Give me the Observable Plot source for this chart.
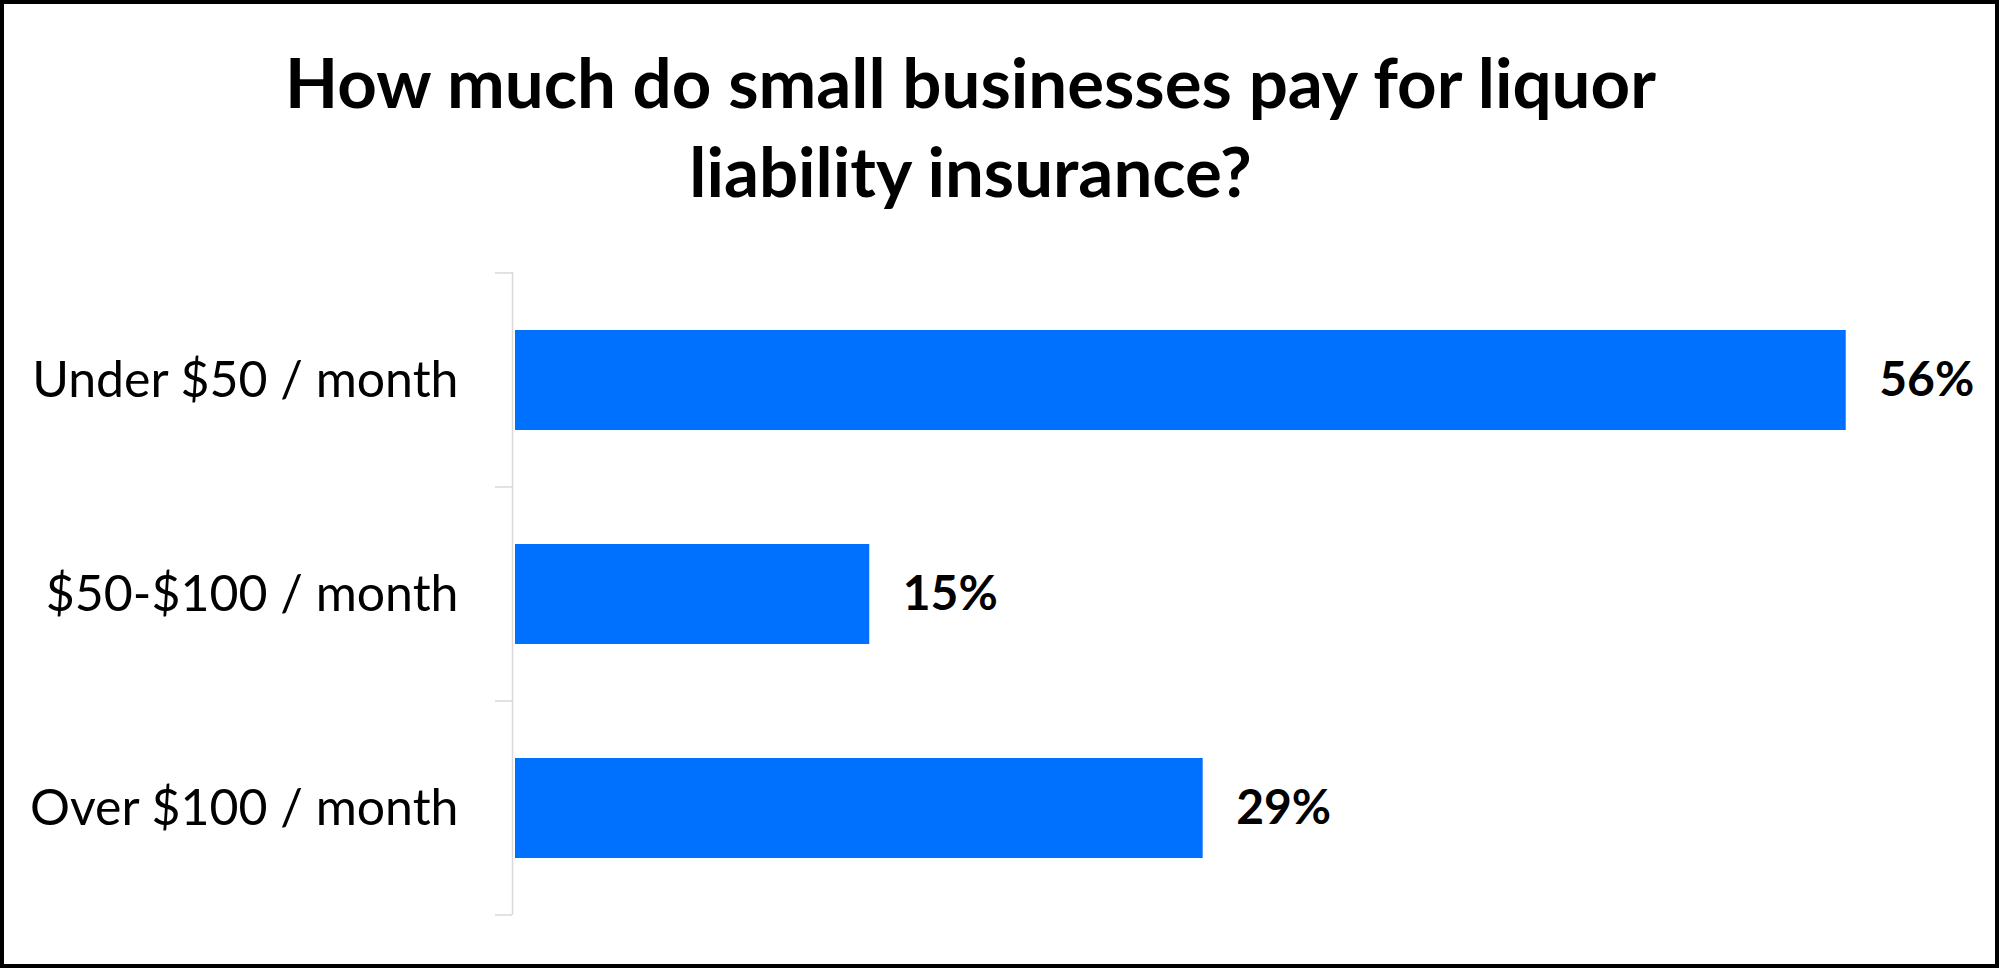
<!DOCTYPE html>
<html>
<head>
<meta charset="utf-8">
<script src="https://cdn.jsdelivr.net/npm/d3@7"></script>
<script src="https://cdn.jsdelivr.net/npm/@observablehq/plot@0.6"></script>
<style>
  html, body { margin: 0; padding: 0; background: #fff; }
  #frame {
    width: 1999px; height: 968px; box-sizing: border-box;
    border: 4px solid #000; background: #fff; overflow: hidden;
    font-family: Lato, "Open Sans", sans-serif; color: #000;
  }
  #title {
    height: 219px; box-sizing: border-box; padding-top: 33px; padding-right: 58px;
    text-align: center; font-weight: bold; font-size: 69px; line-height: 89px;
  }
  #chart svg { display: block; }
</style>
</head>
<body>
<div id="frame">
  <div id="title">How much do small businesses pay for liquor<br>liability insurance?</div>
  <div id="chart"></div>
</div>
<script>
const categories = ["Under $50 / month", "$50-$100 / month", "Over $100 / month"];
const values = [56, 15, 29];
const valueLabels = ["56%", "15%", "29%"];

const data = categories.map((c, i) => ({category: c, value: values[i], label: valueLabels[i]}));

const barColor = "#0070FF";
const axisColor = "#D9D9D9";
const padInner = 0.533;
const tickLen = 17;

function boundaryTicks(index, scales) {
  const y = scales.y, x = scales.x;
  const step = y(categories[1]) - y(categories[0]);
  const pad = step * padInner / 2;
  const bounds = categories.map(c => y(c) - pad);
  bounds.push(y(categories[categories.length - 1]) + step - pad);
  const x0 = x(0);
  const g = d3.create("svg:g").attr("stroke", axisColor).attr("stroke-width", 1.5);
  g.selectAll("line").data(bounds).join("line")
    .attr("x1", x0 - tickLen).attr("x2", x0)
    .attr("y1", d => d).attr("y2", d => d);
  return g.node();
}

const chart = Plot.plot({
  width: 1991,
  height: 741,
  marginLeft: 508,
  marginRight: 54,
  marginTop: 49,
  marginBottom: 49,
  style: {fontFamily: "Lato, 'Open Sans', sans-serif", color: "#000", background: "#fff"},
  x: {domain: [0, 60], axis: null},
  y: {domain: categories, padding: padInner, paddingOuter: padInner / 2, label: null},
  marks: [
    Plot.barX(data, {x: "value", y: "category", fill: barColor, insetLeft: 3}),
    Plot.ruleX([0], {stroke: axisColor, strokeWidth: 1.5}),
    boundaryTicks,
    Plot.axisY({tickSize: 0, tickPadding: 54, fontSize: 50, label: null, fill: "#000"}),
    Plot.text(data, {x: "value", y: "category", text: "label", textAnchor: "start", dx: 33,
      fontSize: 48, fontWeight: "bold", fill: "#000"})
  ]
});
document.getElementById("chart").appendChild(chart);
</script>
</body>
</html>
